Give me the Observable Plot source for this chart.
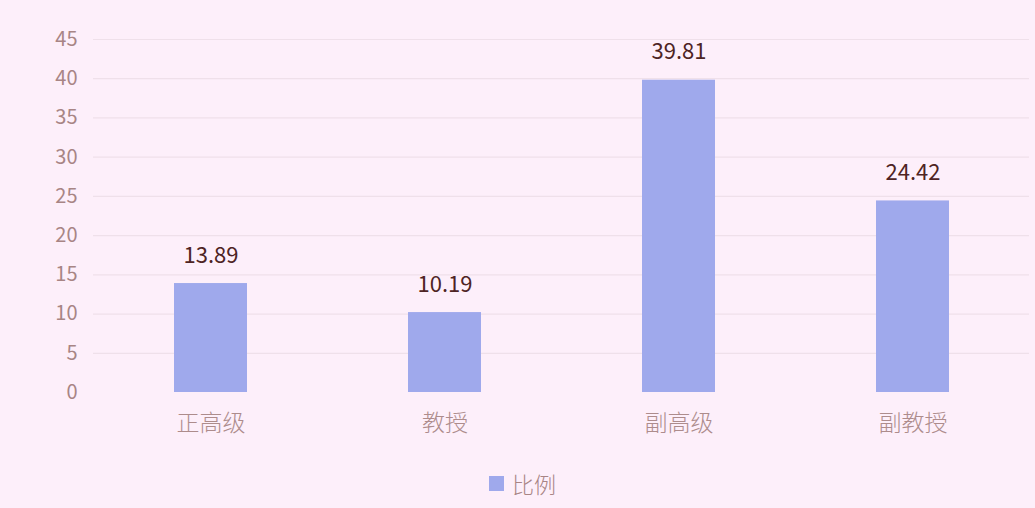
<!DOCTYPE html>
<html>
<head>
<meta charset="utf-8">
<script src="https://cdn.jsdelivr.net/npm/d3@7"></script>
<script src="https://cdn.jsdelivr.net/npm/@observablehq/plot@0.6"></script>
<style>
  html, body { margin: 0; padding: 0; background: #fdeffa; }
  body { width: 1035px; height: 508px; overflow: hidden; font-family: "Noto Sans CJK SC", "Open Sans", sans-serif; }
  #chart svg { display: block; }
  #legend { display: flex; justify-content: center; align-items: center; gap: 8px; height: 40px; margin-top: -2px; color: #a88585; font-size: 22px; font-weight: 300; padding-left: 10px; }
  #legend .sw { width: 15px; height: 15px; background: #9fa9ec; display: inline-block; }
</style>
</head>
<body>
<div id="chart"></div>
<div id="legend"><span class="sw"></span><span id="legend-label"></span></div>
<script>
const categories = ["正高级", "教授", "副高级", "副教授"];
const values = [13.89, 10.19, 39.81, 24.42];
const yTicks = [0, 5, 10, 15, 20, 25, 30, 35, 40, 45];
const seriesName = "比例";

const data = categories.map((c, i) => ({ category: c, value: values[i] }));

const chart = Plot.plot({
  width: 1035,
  height: 465,
  marginLeft: 93,
  marginRight: 6,
  marginTop: 39,
  marginBottom: 73,
  style: { background: "transparent", fontFamily: "'Noto Sans CJK SC', 'Open Sans', sans-serif" },
  x: { domain: categories, paddingInner: 0.69, paddingOuter: 0.345, label: null, tickSize: 0 },
  y: { domain: [0, 45], ticks: yTicks, label: null, tickSize: 0 },
  marks: [
    Plot.ruleY(yTicks.filter(d => d > 0), { stroke: "#efe0ea", strokeWidth: 1.2 }),
    Plot.barY(data, { x: "category", y: "value", fill: "#9fa9ec" }),
    Plot.text(data, { x: "category", y: "value", text: d => d.value.toFixed(2), lineAnchor: "bottom", dy: -21, fontSize: 22, fill: "#4e2424" }),
    Plot.axisY({ ticks: yTicks, tickSize: 0, tickPadding: 16, fontSize: 20, color: "#a88585", label: null }),
    Plot.axisX({ tickSize: 0, tickPadding: 22, fontSize: 23, fontWeight: 300, color: "#ad8c8c", label: null })
  ]
});
document.getElementById("chart").appendChild(chart);
document.getElementById("legend-label").textContent = seriesName;
</script>
</body>
</html>
